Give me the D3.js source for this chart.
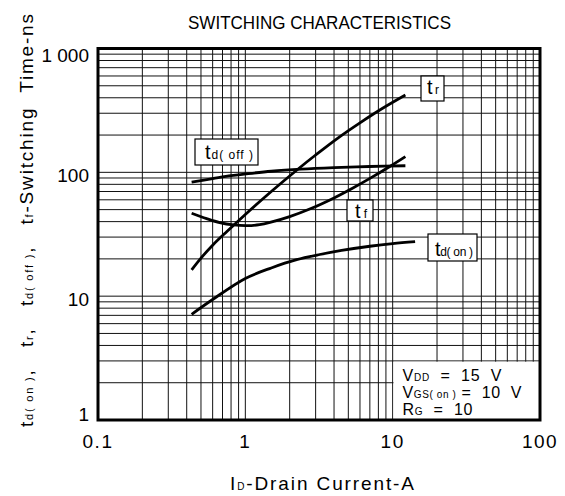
<!DOCTYPE html>
<html><head><meta charset="utf-8">
<script src="https://cdn.jsdelivr.net/npm/d3@7"></script>
<style>body{margin:0;background:#fff} svg{display:block;font-family:"Liberation Sans",Arial,sans-serif}</style>
</head><body><svg id="c" width="565" height="496"></svg>
<script>
// ---- data ----
const xTicks = [0.1, 1, 10, 100];
const xTickLabels = ["0.1", "1", "10", "100"];
const yTicks = [1, 10, 100, 1000];
const yTickLabels = ["1", "10", "100", "1 000"];

const tdOffI = [0.432, 0.6, 0.8, 1, 1.5, 2.4, 4, 7, 12.2];
const tdOffV = [83.5, 89, 94, 97, 102, 106, 109, 111.5, 113];

const trI = [0.432, 0.5, 0.6, 0.75, 1, 1.5, 2.25, 3, 4.27, 6, 8.55, 12.2];
const trV = [16.3, 20.3, 25.8, 33.3, 45.7, 70, 105, 138, 190, 251, 329, 421];

const tfI = [0.432, 0.546, 0.67, 0.83, 1.02, 1.25, 1.47, 2.0, 2.79, 4, 5.3, 7.2, 9.5, 12.2];
const tfV = [46.7, 42.3, 39.3, 37.6, 37.1, 37.8, 39.4, 43.9, 51, 62.1, 74, 91, 111, 134];

const tdOnI = [0.432, 0.6, 1, 1.5, 2.23, 3.2, 4.5, 7, 10, 14.2];
const tdOnV = [7.14, 9.4, 13.9, 16.9, 19.7, 21.7, 23.4, 25.3, 26.6, 27.6];

// ---- drawing ----
const svg = d3.select("#c");
const x = d3.scaleLog().domain([0.1, 100]).range([98, 540]);
const y = d3.scaleLog().domain([1, 1000]).range([420, 48.5]);

// grid
const grid = svg.append("g").attr("stroke", "#111").attr("stroke-width", 1);
grid.selectAll("line.v").data(x.ticks()).join("line")
  .attr("x1", d => x(d)).attr("x2", d => x(d)).attr("y1", y(1)).attr("y2", y(1000));
grid.selectAll("line.h").data(y.ticks()).join("line")
  .attr("y1", d => y(d)).attr("y2", d => y(d)).attr("x1", x(0.1)).attr("x2", x(100));

// white condition box (hides grid for I>10, t<3)
svg.append("rect").attr("x", x(10) + 0.8).attr("y", y(3) + 0.8)
  .attr("width", x(100) - x(10) - 0.8).attr("height", y(1) - y(3) - 0.8).attr("fill", "#fff");

// curves
const line = d3.line().x(d => x(d[0])).y(d => y(d[1])).curve(d3.curveCatmullRom.alpha(0.5));
const series = [[tdOffI, tdOffV], [trI, trV], [tfI, tfV], [tdOnI, tdOnV]];
series.forEach(([I, V]) => {
  svg.append("path").datum(I.map((d, i) => [d, V[i]])).attr("d", line)
    .attr("fill", "none").attr("stroke", "#000").attr("stroke-width", 2.8).attr("stroke-linecap", "butt");
});

// frame
svg.append("rect").attr("x", x(0.1)).attr("y", y(1000)).attr("width", x(100) - x(0.1))
  .attr("height", y(1) - y(1000)).attr("fill", "none").attr("stroke", "#000").attr("stroke-width", 3);

// rich text helper
function rich(g, px, py, parts, size, subSize, len, adj) {
  const t = g.append("text").attr("x", px).attr("y", py).attr("font-size", size)
    .attr("xml:space", "preserve").style("white-space", "pre").attr("fill", "#000");
  parts.forEach(([s, sub]) => {
    t.append("tspan").attr("font-size", sub ? subSize : size).text(s);
  });
  if (len) t.attr("textLength", len).attr("lengthAdjust", adj || "spacing");
  return t;
}

// label boxes
const boxes = [
  {r: [195, 139, 63, 26], t: [205, 159], parts: [["t"], ["d( off )", 1]], len: 48},
  {r: [421, 76, 23, 25], t: [427, 94], parts: [["t"], ["r", 1]], len: 12},
  {r: [347, 200, 26, 21], t: [355, 218], parts: [["t"], ["f", 1]], len: 12},
  {r: [428, 234, 49, 27], t: [435, 256], parts: [["t"], ["d( on )", 1]], len: 38}
];
boxes.forEach(b => {
  svg.append("rect").attr("x", b.r[0]).attr("y", b.r[1]).attr("width", b.r[2]).attr("height", b.r[3])
    .attr("fill", "#fff").attr("stroke", "#000").attr("stroke-width", 1.2);
  rich(svg, b.t[0], b.t[1], b.parts, 20, 12, b.len);
});

// condition text
rich(svg, 402.5, 381, [["V"], ["DD", 1], ["  =  15  V"]], 16, 10, 99);
rich(svg, 402.5, 398, [["V"], ["GS( on )", 1], [" =  10  V"]], 16, 10, 119);
rich(svg, 402.5, 415, [["R"], ["G", 1], ["  =  10"]], 16, 10, 70);

// tick labels
svg.append("g").selectAll("text").data(xTicks).join("text")
  .attr("x", d => x(d)).attr("y", 448).attr("text-anchor", "middle").attr("font-size", 19)
  .attr("letter-spacing", 1.5).text((d, i) => xTickLabels[i]);
svg.append("g").selectAll("text").data(yTicks).join("text")
  .attr("x", 89).attr("y", d => Math.min(Math.max(y(d) + 10, 62), 421)).attr("text-anchor", "end")
  .attr("font-size", 19).attr("xml:space", "preserve").style("white-space", "pre")
  .text((d, i) => yTickLabels[i]);

// title
svg.append("text").attr("x", 188).attr("y", 29).attr("font-size", 17.5)
  .attr("textLength", 263).attr("lengthAdjust", "spacingAndGlyphs").text("SWITCHING CHARACTERISTICS");

// x axis title
rich(svg, 230, 490, [["I"], ["D", 1], ["-Drain Current-A"]], 19, 10, 184);

// y axis title
const yt = svg.append("g").attr("transform", "translate(33,427) rotate(-90)");
rich(yt, 0, 0, [["t"], ["d( on )", 1], [",   t"], ["r", 1], [",   t"], ["d( off )", 1], [",   t"], ["f", 1], ["-Switching  Time-ns"]], 19, 11, 413);
</script></body></html>
